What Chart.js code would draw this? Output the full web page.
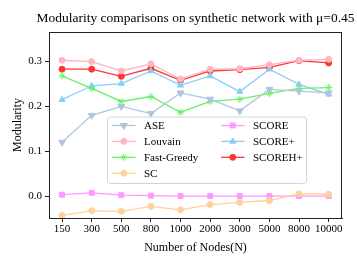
<!DOCTYPE html>
<html lang="en">
<head>
    <meta charset="UTF-8">
    <title>Modularity comparisons</title>
    <script src="https://cdn.jsdelivr.net/npm/chart.js@4.4.1/dist/chart.umd.min.js"></script>
    <style>
        body { margin: 0; background: #fff; }
        .chart-container { position: relative; width: 357px; height: 268px; }
    </style>
</head>
<body>
    <div class="chart-container">
        <canvas id="chart"></canvas>
    </div>
    <script>
    // data
    const nodeLabels = ['150', '300', '500', '800', '1000', '2000', '3000', '5000', '8000', '10000']
    const yTickValues = [0.0, 0.1, 0.2, 0.3]

    const ase        = [0.120, 0.180, 0.200, 0.184, 0.230, 0.216, 0.190, 0.238, 0.234, 0.230]
    const louvain    = [0.303, 0.300, 0.279, 0.295, 0.261, 0.283, 0.284, 0.293, 0.303, 0.305]
    const fastGreedy = [0.268, 0.240, 0.211, 0.222, 0.187, 0.211, 0.216, 0.229, 0.240, 0.242]
    const sc         = [-0.043, -0.033, -0.034, -0.023, -0.031, -0.019, -0.014, -0.010, 0.005, 0.004]
    const score      = [0.003, 0.007, 0.002, 0.001, 0.000, 0.000, 0.000, 0.000, 0.000, 0.000]
    const scorePlus  = [0.215, 0.246, 0.251, 0.279, 0.247, 0.268, 0.233, 0.283, 0.249, 0.227]
    const scoreHPlus = [0.283, 0.283, 0.267, 0.285, 0.258, 0.279, 0.282, 0.287, 0.302, 0.297]

    const FONT = "'Liberation Serif', 'DejaVu Serif', serif"
    Chart.defaults.font.family = FONT
    Chart.defaults.color = '#000'

    function series(label, values, color, style, radius){
        return {
            label: label,
            data: values.map((v, i) => ({x: i, y: v})),
            borderColor: color,
            backgroundColor: color,
            pointBackgroundColor: color,
            pointBorderColor: color,
            pointStyle: style,
            pointRadius: radius,
            pointBorderWidth: 1,
            borderWidth: 1.3,
            tension: 0
        }
    }

    const datasets = [
        series('ASE', ase, '#b0c4de', 'triangle', 4),
        series('Louvain', louvain, '#ffb6c1', 'circle', 3),
        series('Fast-Greedy', fastGreedy, '#66f266', 'star', 3.5),
        series('SC', sc, '#ffd09a', 'circle', 3),
        series('SCORE', score, '#ff99ff', 'rect', 3.5),
        series('SCORE+', scorePlus, '#87cefa', 'triangle', 3.5),
        series('SCOREH+', scoreHPlus, '#ff3535', 'circle', 3)
    ]
    // ASE uses a downward triangle
    datasets[0].pointRotation = 180

    const framePlugin = {
        id: 'frame',
        afterDatasetsDraw(chart){
            const {ctx, chartArea: a} = chart
            ctx.save()
            ctx.strokeStyle = '#222'
            ctx.lineWidth = 1
            ctx.strokeRect(a.left + 0.5, a.top + 0.5, a.right - a.left - 1, a.bottom - a.top)
            // title centred over the plot area
            ctx.fillStyle = '#000'
            ctx.font = '13.5px ' + FONT
            ctx.textAlign = 'center'
            ctx.textBaseline = 'middle'
            ctx.fillText('Modularity comparisons on synthetic network with \u03bc=0.45', (a.left + a.right) / 2, 18.5)
            ctx.restore()
        }
    }

    const legendPlugin = {
        id: 'boxLegend',
        afterDatasetsDraw(chart){
            const {ctx, chartArea: a} = chart
            const bx = a.left + 58.5, by = a.top + 85, bw = 199, bh = 66.5
            ctx.save()
            ctx.beginPath()
            ctx.roundRect(bx, by, bw, bh, 3)
            ctx.fillStyle = 'rgba(255,255,255,0.85)'
            ctx.fill()
            ctx.strokeStyle = '#d4d4d4'
            ctx.lineWidth = 1
            ctx.stroke()
            ctx.font = '11px ' + FONT
            ctx.textBaseline = 'middle'
            ctx.textAlign = 'left'
            chart.data.datasets.forEach((ds, i) => {
                const col = Math.floor(i / 4), row = i % 4
                const x1 = bx + 4.5 + col * 109, x2 = x1 + 23.5
                const y = by + 8.5 + row * 15.9
                ctx.strokeStyle = ds.borderColor
                ctx.lineWidth = ds.borderWidth
                ctx.beginPath()
                ctx.moveTo(x1, y)
                ctx.lineTo(x2, y)
                ctx.stroke()
                ctx.fillStyle = ds.pointBackgroundColor
                ctx.lineWidth = ds.pointBorderWidth
                Chart.helpers.drawPoint(ctx, {
                    pointStyle: ds.pointStyle,
                    radius: ds.pointRadius,
                    rotation: ds.pointRotation || 0,
                    borderWidth: ds.pointBorderWidth
                }, (x1 + x2) / 2, y)
                ctx.fillStyle = '#000'
                ctx.fillText(ds.label, x2 + 8.5, y + 0.5)
            })
            ctx.restore()
        }
    }

    const ctx = document.getElementById('chart').getContext('2d')
    const myChart = new Chart(ctx, {
        type: 'line',
        data: { datasets: datasets },
        options: {
            responsive: true,
            maintainAspectRatio: false,
            animation: false,
            layout: { padding: { top: 32, right: 15, left: 0, bottom: 0 } },
            plugins: {
                legend: { display: false },
                title: { display: false },
                tooltip: { enabled: false }
            },
            scales: {
                x: {
                    type: 'linear',
                    min: -0.44,
                    max: 9.45,
                    afterFit(scale){ scale.height = 50 },
                    afterBuildTicks(scale){
                        scale.ticks = nodeLabels.map((_, i) => ({value: i}))
                    },
                    ticks: {
                        padding: 1,
                        maxRotation: 0,
                        autoSkip: false,
                        font: { size: 11 },
                        color: '#000',
                        callback: (v) => nodeLabels[v]
                    },
                    grid: { drawOnChartArea: false, tickLength: 4, color: '#222' },
                    border: { color: '#222' },
                    title: {
                        display: true,
                        text: 'Number of Nodes(N)',
                        font: { size: 12 },
                        color: '#000',
                        padding: { top: 0, bottom: 12.5 }
                    }
                },
                y: {
                    min: -0.049,
                    max: 0.366,
                    afterFit(scale){ scale.width = 49 },
                    afterBuildTicks(scale){
                        scale.ticks = yTickValues.map(v => ({value: v}))
                    },
                    ticks: {
                        padding: 3,
                        font: { size: 11 },
                        color: '#000',
                        callback: (v) => v.toFixed(1)
                    },
                    grid: { drawOnChartArea: false, tickLength: 4, color: '#222' },
                    border: { color: '#222' },
                    title: {
                        display: true,
                        text: 'Modularity',
                        font: { size: 12 },
                        color: '#000',
                        padding: { top: 11, bottom: 0 }
                    }
                }
            }
        },
        plugins: [framePlugin, legendPlugin]
    })
    </script>
</body>
</html>
